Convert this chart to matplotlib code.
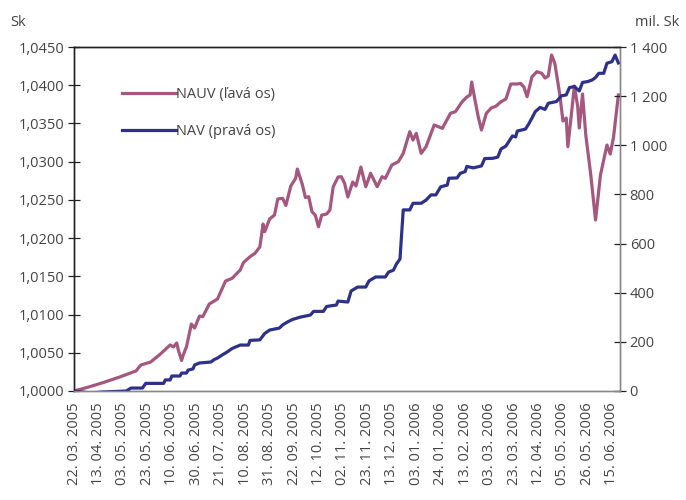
import numpy as np
import matplotlib
matplotlib.use('Agg')
import matplotlib.pyplot as plt
from matplotlib.ticker import FuncFormatter

plt.rcParams['font.family'] = ['Open Sans', 'DejaVu Sans']

####dni obchodovania (index) a hodnoty NAUV - lava os
nauv_day = [0, 9, 18, 28, 38, 41, 47, 53, 59, 61, 63, 64, 66, 67, 69, 72, 74, 77, 79, 83,
            88, 93, 97, 100, 102, 104, 108, 111, 114, 116, 117, 120, 123, 125, 128, 130, 133, 136, 137, 140,
            142, 144, 146, 148, 150, 152, 155, 157, 159, 162, 164, 166, 168, 171, 173, 176, 179, 182, 186, 189,
            191, 195, 199, 202, 206, 208, 210, 213, 216, 221, 226, 231, 234, 238, 241, 243, 244, 246, 248, 250,
            253, 256, 259, 262, 265, 268, 272, 274, 276, 278, 281, 284, 287, 289, 291, 293, 295, 298, 300, 302,
            303, 305, 307, 309, 310, 312, 314, 317, 320, 323, 327, 329, 331, 334]
nauv = [1.0000, 1.00052, 1.00111, 1.00183, 1.00262, 1.00340, 1.00379, 1.00484, 1.00602, 1.00576,
        1.00628, 1.00536, 1.00399, 1.00471, 1.00579, 1.00876, 1.00824, 1.00981, 1.00972, 1.01138,
        1.01203, 1.01439, 1.01474, 1.01540, 1.01583, 1.01681, 1.01757, 1.01801, 1.01884, 1.02184,
        1.02084, 1.02250, 1.02302, 1.02512, 1.02521, 1.02427, 1.02682, 1.02782, 1.02904, 1.02708,
        1.02531, 1.02542, 1.02345, 1.02302, 1.02149, 1.02302, 1.02315, 1.02368, 1.02669, 1.02799,
        1.02803, 1.02717, 1.02538, 1.02734, 1.02682, 1.02930, 1.02672, 1.02848, 1.02672, 1.02803,
        1.02782, 1.02956, 1.03000, 1.03109, 1.03392, 1.03283, 1.03371, 1.03109, 1.03196, 1.03480,
        1.03436, 1.03633, 1.03654, 1.03780, 1.03846, 1.03872, 1.04042, 1.03807, 1.03588, 1.03414,
        1.03633, 1.03702, 1.03728, 1.03784, 1.03820, 1.04016, 1.04016, 1.04025, 1.03977, 1.03850,
        1.04111, 1.04177, 1.04156, 1.04094, 1.04121, 1.04395, 1.04287, 1.03885, 1.03532, 1.03571,
        1.03196, 1.03588, 1.03990, 1.03728, 1.03440, 1.03885, 1.03349, 1.02839, 1.02237, 1.02826,
        1.03218, 1.03100, 1.03316, 1.03872]

####NAV v mil. Sk - prava os
nav_day = [0, 10, 18, 32, 35, 42, 44, 55, 56, 59, 60, 65, 66, 69, 70, 73, 74, 77, 84, 86,
           88, 91, 94, 97, 102, 107, 108, 114, 117, 120, 126, 128, 131, 134, 139, 145, 147, 153, 155, 161,
           162, 168, 170, 174, 179, 181, 185, 191, 193, 196, 198, 200, 202, 206, 208, 213, 216, 219, 222, 225,
           229, 230, 235, 237, 240, 241, 245, 250, 252, 257, 260, 262, 265, 269, 271, 272, 277, 279, 281, 283,
           286, 289, 291, 296, 299, 302, 304, 307, 310, 312, 315, 318, 320, 322, 325, 327, 330, 332, 334]
nav = [0, -8, -4, 0, 12, 12, 31, 31, 45, 45, 61, 61, 73, 73, 85, 90, 106, 114, 118, 128,
       134, 147, 159, 173, 187, 187, 206, 208, 234, 248, 256, 269, 281, 291, 301, 309, 324, 324, 344, 350,
       366, 362, 407, 423, 423, 448, 464, 464, 484, 492, 519, 537, 737, 737, 764, 764, 777, 798, 798, 831,
       838, 866, 867, 886, 893, 914, 908, 916, 946, 947, 952, 985, 997, 1038, 1034, 1058, 1066, 1087, 1111, 1137,
       1154, 1146, 1171, 1178, 1201, 1205, 1235, 1239, 1221, 1256, 1259, 1266, 1276, 1293, 1293, 1334, 1340, 1367, 1335]

####popisky osi x (kazdych 15 obchodnych dni)
x_labels = ['22. 03. 2005', '13. 04. 2005', '03. 05. 2005', '23. 05. 2005', '10. 06. 2005',
            '30. 06. 2005', '21. 07. 2005', '10. 08. 2005', '31. 08. 2005', '22. 09. 2005',
            '12. 10. 2005', '02. 11. 2005', '23. 11. 2005', '13. 12. 2005', '03. 01. 2006',
            '24. 01. 2006', '13. 02. 2006', '03. 03. 2006', '23. 03. 2006', '12. 04. 2006',
            '05. 05. 2006', '26. 05. 2006', '15. 06. 2006']
x_ticks = np.arange(len(x_labels)) * 15

pink = '#A5577F'
navy = '#2E3189'
txt = '#444444'

fig = plt.figure(figsize=(6.86, 5.0), dpi=100)
ax = fig.add_axes([0.1079, 0.218, 0.7959, 0.688])
ax2 = ax.twinx()

l1, = ax.plot(nauv_day, nauv, color=pink, lw=2.3, label='NAUV (ľavá os)', solid_joinstyle='round')
l2, = ax2.plot(nav_day, nav, color=navy, lw=2.3, label='NAV (pravá os)', solid_joinstyle='round')

ax.set_xlim(0, 335)
ax.set_ylim(1.0, 1.045)
ax2.set_ylim(0, 1400)

ax.set_yticks(np.arange(1.0, 1.04501, 0.005))
ax.yaxis.set_major_formatter(FuncFormatter(lambda v, p: ('%.4f' % v).replace('.', ',')))
ax2.set_yticks(np.arange(0, 1401, 200))
ax2.yaxis.set_major_formatter(FuncFormatter(lambda v, p: '{:,.0f}'.format(v).replace(',', ' ')))

ax.set_xticks(x_ticks)
ax.set_xticklabels(x_labels, rotation=90)
ax.tick_params(axis='x', length=0, pad=8, labelsize=10.5, colors=txt)
ax.tick_params(axis='y', direction='inout', length=8, width=0.9, labelsize=10.5, colors=txt, pad=3, color='#222222')
ax2.tick_params(axis='y', direction='inout', length=8, width=0.9, labelsize=10.5, colors=txt, pad=3, color='#222222')

for a in (ax, ax2):
    a.spines['left'].set_color('#222222')
    a.spines['top'].set_color('#222222')
    a.spines['bottom'].set_color('#888888')
    a.spines['right'].set_color('#888888')
    for s in a.spines.values():
        s.set_linewidth(1.0)

fig.text(0.015, 0.955, 'Sk', fontsize=10.5, color=txt, ha='left', va='center')
fig.text(0.99, 0.955, 'mil. Sk', fontsize=10.5, color=txt, ha='right', va='center')

ax.legend(handles=[l1, l2], loc='upper left', bbox_to_anchor=(0.088, 0.883), frameon=False,
          borderpad=0, borderaxespad=0, handlelength=3.7, handletextpad=0.0, labelspacing=1.5,
          fontsize=10.5, labelcolor=txt)

fig.savefig('out.png', dpi=100)
